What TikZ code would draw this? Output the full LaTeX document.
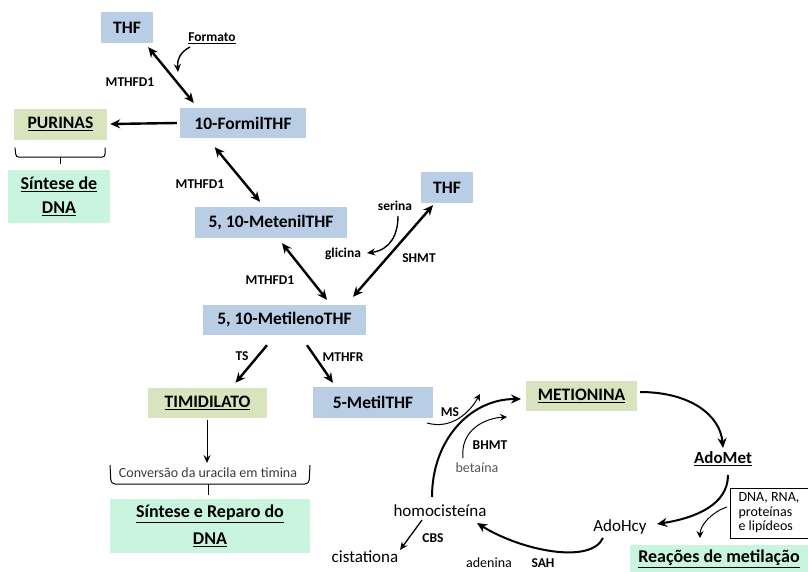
\documentclass[tikz,border=0pt]{standalone}
\usepackage{fontspec}
\setmainfont{Carlito}
\usetikzlibrary{arrows.meta}
\definecolor{bl}{HTML}{B9CDE5}
\definecolor{gr}{HTML}{D7E4BD}
\definecolor{mi}{HTML}{C9F5DF}
\definecolor{gtxt}{HTML}{555555}
\begin{document}
\begin{tikzpicture}[x=1pt,y=-1pt,
  box/.style={inner sep=0pt, font=\fontsize{17.5}{20}\selectfont\bfseries, align=center},
  bluebox/.style={box, fill=bl},
  greenbox/.style={box, fill=gr},
  mintbox/.style={box, fill=mi, font=\fontsize{18}{25}\selectfont\bfseries},
  lbl/.style={inner sep=0pt, font=\fontsize{13.5}{15}\selectfont\bfseries},
  txt/.style={inner sep=0pt, font=\fontsize{17}{19}\selectfont},
  smalltxt/.style={inner sep=0pt, font=\fontsize{14}{16}\selectfont},
  big/.style={line width=2.4pt, {Stealth[length=10pt,width=9pt]}-{Stealth[length=10pt,width=9pt]}},
  one/.style={line width=2.4pt, -{Stealth[length=10pt,width=9pt]}},
  cyc/.style={line width=2pt, -{Stealth[length=10pt,width=9pt]}},
  thin/.style={line width=1pt, -{Stealth[length=7pt,width=7pt,inset=2.5pt]}},
  med/.style={line width=1.4pt, -{Stealth[length=8pt,width=7pt]}}
]
\useasboundingbox (0,0) rectangle (808,571);

% boxes
\node[bluebox, minimum width=52, minimum height=31] (thf1) at (127,27.5) {THF};
\node[lbl] (formato) at (212,38) {\underline{Formato}};
\node[bluebox, minimum width=126, minimum height=30] (formil) at (243,123) {10-FormilTHF};
\node[greenbox, minimum width=93, minimum height=31] (purinas) at (60.5,124) {\underline{PURINAS}};
\node[mintbox, minimum width=102, minimum height=53, font=\fontsize{18}{24}\selectfont\bfseries] (sint1) at (59,196.5) {\underline{Síntese de}\\\underline{DNA}};
\node[bluebox, minimum width=152, minimum height=31] (meten) at (271,222.5) {5, 10-MetenilTHF};
\node[bluebox, minimum width=52, minimum height=31] (thf2) at (447,187.5) {THF};
\node[lbl] (serina) at (395,206) {serina};
\node[lbl] (glicina) at (343,254) {glicina};
\node[lbl] (shmt) at (419,258) {SHMT};
\node[bluebox, minimum width=163, minimum height=30] (metil) at (284.5,320) {5, 10-MetilenoTHF};
\node[lbl] (ts) at (242,356) {TS};
\node[lbl] (mthfr) at (343,357) {MTHFR};
\node[greenbox, minimum width=119, minimum height=30] (timid) at (207.5,403) {\underline{TIMIDILATO}};
\node[bluebox, minimum width=120, minimum height=31] (metthf) at (373,402.5) {5-MetilTHF};
\node[smalltxt, text=gtxt!70!black] (conv) at (208,473) {Conversão da uracila em timina};
\node[mintbox, minimum width=200, minimum height=54, font=\fontsize{18}{27}\selectfont\bfseries] (sint2) at (210,526) {\underline{Síntese e Reparo do}\\\underline{DNA}};
\node[greenbox, minimum width=111, minimum height=30] (metio) at (581.5,396) {\underline{METIONINA}};
\node[box, font=\fontsize{17}{19}\selectfont\bfseries] (adomet) at (723,459) {\underline{AdoMet}};
\node[txt] (adohcy) at (620,527) {AdoHcy};
\node[txt] (homo) at (440,511) {homocisteína};
\node[txt] (cist) at (365,557) {cistationa};
\node[lbl] (cbs) at (433,538) {CBS};
\node[smalltxt] (adenina) at (489,563) {adenina};
\node[lbl] (sah) at (543,563) {SAH};
\node[smalltxt, draw, line width=0.6pt, minimum width=78, minimum height=50, align=left, inner sep=2pt, font=\fontsize{14}{14.5}\selectfont] (dnabox) at (769,513) {DNA, RNA,\\proteínas\\e lipídeos};
\node[mintbox, minimum width=178, minimum height=28, font=\fontsize{18}{20}\selectfont\bfseries] (reac) at (719,559) {\underline{Reações de metilação}};
\node[lbl] (ms) at (450,412) {MS};
\node[lbl] (bhmt) at (490,445) {BHMT};
\node[smalltxt, text=gtxt] (betaina) at (477,468) {betaína};
\node[lbl] (m1) at (130,82) {MTHFD1};
\node[lbl] (m2) at (200,184) {MTHFD1};
\node[lbl] (m3) at (270,280) {MTHFD1};

% connectors upper pathway
\draw[big] ([shift={(-5,4)}]thf1.south east) -- ([shift={(14,-5)}]formil.north west);
\draw[med] ([shift={(-22,9)}]formato.center) .. controls (180,52) and (177,60) .. ([shift={(-34,34)}]formato.center);
\draw[one] ([shift={(-3,0)}]formil.west) -- ([shift={(3,0)}]purinas.east);
\draw[big] ([shift={(35,9)}]formil.south west) -- ([shift={(-11,-5)}]meten.north);
\draw[big] ([shift={(11,5)}]meten.south) -- ([shift={(42.5,-5)}]metil.north);
\draw[big] ([shift={(-14,2)}]thf2.south) -- ([shift={(68.5,-8)}]metil.north);
\draw[med] ([shift={(3,10)}]serina.center) .. controls (398,235) and (390,250) .. ([shift={(24,-1)}]glicina.center);
\draw[one] ([shift={(-17.5,10)}]metil.south) -- ([shift={(28,-5)}]timid.north);
\draw[one] ([shift={(22.5,10)}]metil.south) -- ([shift={(-40,-4)}]metthf.north);
\draw[line width=1pt, -{Stealth[length=8pt,width=7pt,inset=3pt]}] ([shift={(-0.5,2)}]timid.south) -- ([shift={(-1,-10)}]conv.center);

% braces
\draw[line width=1pt, rounded corners=3] ([shift={(-45.5,8)}]purinas.south) -- ([shift={(-44.5,17.5)}]purinas.south) -- ([shift={(44.5,17.5)}]purinas.south) -- ([shift={(44.5,8)}]purinas.south);
\draw[line width=1pt] ([shift={(-0.5,17.5)}]purinas.south) -- ([shift={(-0.5,24)}]purinas.south);
\draw[line width=1pt, rounded corners=4] ([shift={(-98,-8)}]conv.center) -- ([shift={(-97,11)}]conv.center) -- ([shift={(101,11)}]conv.center) -- ([shift={(102,-8)}]conv.center);
\draw[line width=1pt] ([shift={(0,11)}]conv.center) -- ([shift={(0,22)}]conv.center);

% cycle
\draw[cyc] ([shift={(58.5,-4)}]metio.center) .. controls (690,392) and (720,415) .. ([shift={(0,-11)}]adomet.center);
\draw[cyc] ([shift={(5,16)}]adomet.center) .. controls (728,505) and (695,518) .. ([shift={(37,-3)}]adohcy.center);
\draw[cyc] ([shift={(-17,11)}]adohcy.center) .. controls (590,565) and (520,550) .. ([shift={(37,12)}]homo.center);
\draw[cyc] ([shift={(-8,-14)}]homo.center) .. controls (432,440) and (470,399) .. ([shift={(-60.5,3)}]metio.center);
\draw[thin] ([shift={(-23,11)}]ms.center) .. controls (452,430) and (470,412) .. ([shift={(-101.5,-2)}]metio.center);
\draw[thin] ([shift={(-14,-10)}]betaina.center) .. controls (460,430) and (485,418) .. ([shift={(-74.5,21)}]metio.center);
\draw[thin] ([shift={(-42,-6)}]dnabox.center) .. controls (712,512) and (700,525) .. ([shift={(-19,-21)}]reac.center);
\draw[line width=1.3pt, -{Stealth[length=8pt,width=7pt]}] ([shift={(-18,9)}]homo.center) -- ([shift={(35,-7)}]cist.center);
\end{tikzpicture}
\end{document}
